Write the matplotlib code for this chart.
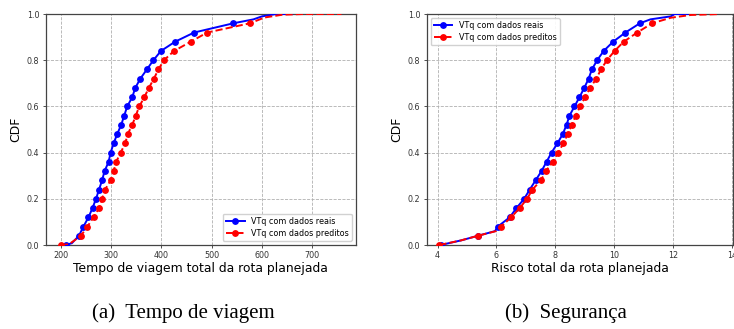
import numpy as np
import matplotlib
matplotlib.use("Agg")
import matplotlib.pyplot as plt

# (a) tempo de viagem (CDF a cada 0.04 + cauda)
tempo_reais_x = [210, 222, 236, 245, 255, 263, 270, 276, 282, 287, 295, 299, 305, 312,
                 320, 326, 332, 342, 348, 358, 371, 384, 399, 427, 465, 543,
                 583, 600, 628, 660]
tempo_reais_y = [0.0, 0.008, 0.04, 0.08, 0.12, 0.16, 0.20, 0.24, 0.28, 0.32, 0.36, 0.40, 0.44, 0.48,
                 0.52, 0.56, 0.60, 0.64, 0.68, 0.72, 0.76, 0.80, 0.84, 0.88, 0.92, 0.96,
                 0.977, 0.99, 1.0, 1.0]
tempo_pred_x = [200, 216, 240, 253, 265, 276, 282, 288, 299, 305, 310, 319, 328, 333,
                342, 349, 356, 366, 375, 385, 394, 405, 425, 458, 491, 576,
                605, 640, 680, 758]
tempo_pred_y = [0.0, 0.003, 0.04, 0.08, 0.12, 0.16, 0.20, 0.24, 0.28, 0.32, 0.36, 0.40, 0.44, 0.48,
                0.52, 0.56, 0.60, 0.64, 0.68, 0.72, 0.76, 0.80, 0.84, 0.88, 0.92, 0.96,
                0.985, 0.997, 1.0, 1.0]

# (b) seguranca
risco_reais_x = [4.10, 4.80, 5.37, 5.95, 6.05, 6.45, 6.68, 6.94, 7.13, 7.33, 7.53, 7.70, 7.87,
                 8.07, 8.25, 8.38, 8.48, 8.65, 8.82, 8.98, 9.13, 9.24, 9.42, 9.64, 9.96,
                 10.38, 10.87, 11.23, 11.92, 12.05, 12.5]
risco_reais_y = [0.0, 0.02, 0.04, 0.06, 0.08, 0.12, 0.16, 0.20, 0.24, 0.28, 0.32, 0.36, 0.40,
                 0.44, 0.48, 0.52, 0.56, 0.60, 0.64, 0.68, 0.72, 0.76, 0.80, 0.84, 0.88,
                 0.92, 0.96, 0.977, 0.99, 1.0, 1.0]
risco_pred_x = [4.06, 4.80, 5.37, 5.98, 6.16, 6.50, 6.79, 7.04, 7.22, 7.51, 7.68, 7.91, 8.10,
                8.27, 8.42, 8.56, 8.69, 8.84, 9.01, 9.18, 9.39, 9.55, 9.75, 10.01, 10.32,
                10.78, 11.29, 11.92, 12.6, 13.57]
risco_pred_y = [0.0, 0.02, 0.04, 0.06, 0.08, 0.12, 0.16, 0.20, 0.24, 0.28, 0.32, 0.36, 0.40,
                0.44, 0.48, 0.52, 0.56, 0.60, 0.64, 0.68, 0.72, 0.76, 0.80, 0.84, 0.88,
                0.92, 0.96, 0.984, 0.996, 1.0]

lbl_reais = "VTq com dados reais"
lbl_pred = "VTq com dados preditos"

fig = plt.figure(figsize=(7.34, 3.29), dpi=100)
ax1 = fig.add_axes([0.0623, 0.2553, 0.4228, 0.702])
ax2 = fig.add_axes([0.5813, 0.2553, 0.4180, 0.702])

def marcas(y):
    # marcador so nos niveis multiplos de 0.04 (como no original)
    y = np.array(y)
    k = y / 0.04
    return list(np.isclose(k, np.round(k)) & (y < 0.97))

def desenha(ax, xr, yr, xp, yp, xlabel, xlim, loc):
    ax.plot(xr, yr, color="blue", lw=1.4, marker="o", ms=3.9, markevery=marcas(yr),
            label=lbl_reais, zorder=3)
    ax.plot(xp, yp, color="red", lw=1.4, ls="--", marker="o", ms=3.9, markevery=marcas(yp),
            label=lbl_pred, zorder=3)
    ax.set_xlim(*xlim)
    ax.set_ylim(0, 1.0)
    ax.grid(True, ls="--", color="#b0b0b0", lw=0.6)
    ax.set_xlabel(xlabel, fontsize=8.9, labelpad=1)
    ax.set_ylabel("CDF", fontsize=8.9, labelpad=3)
    ax.tick_params(labelsize=5.8, length=2.5, width=0.6, pad=2, colors="#333333")
    for s in ax.spines.values():
        s.set_color("#444444")
        s.set_linewidth(0.9)
    ax.legend(loc=loc, fontsize=5.8, handlelength=2.3, framealpha=0.9,
              borderpad=0.4, labelspacing=0.35, borderaxespad=0.5)

desenha(ax1, tempo_reais_x, tempo_reais_y, tempo_pred_x, tempo_pred_y,
        "Tempo de viagem total da rota planejada", (170, 787), "lower right")
ax1.set_xticks([200, 300, 400, 500, 600, 700])
desenha(ax2, risco_reais_x, risco_reais_y, risco_pred_x, risco_pred_y,
        "Risco total da rota planejada", (3.63, 14.05), "upper left")
ax2.set_xticks([4, 6, 8, 10, 12, 14])

fig.text(0.25, 0.049, "(a)  Tempo de viagem", family="Liberation Serif", fontsize=15,
         ha="center", va="center")
fig.text(0.771, 0.049, "(b)  Segurança", family="Liberation Serif", fontsize=15,
         ha="center", va="center")

fig.savefig("out.png", dpi=100)
